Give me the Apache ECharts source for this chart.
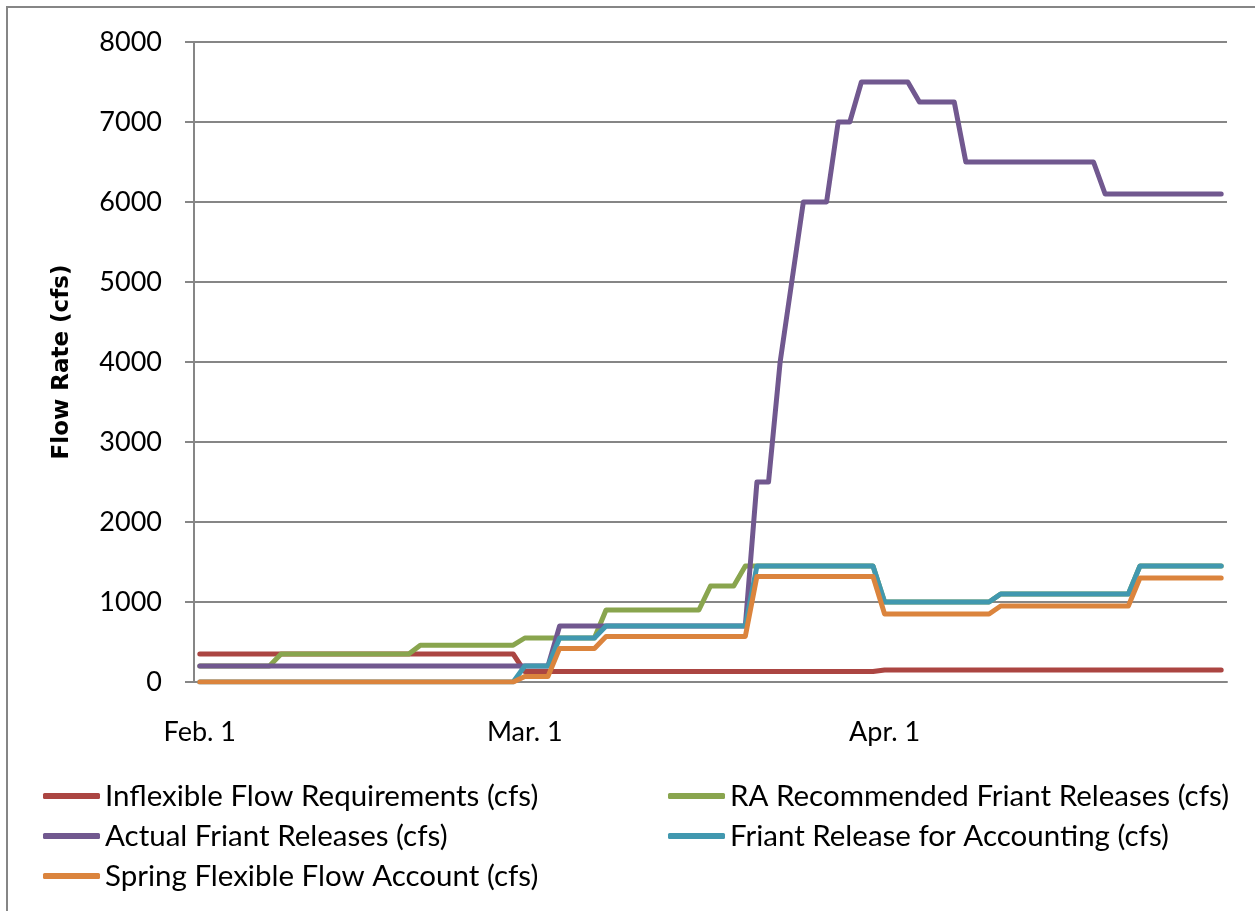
<!DOCTYPE html>
<html>
<head>
<meta charset="utf-8">
<script src="https://cdn.jsdelivr.net/npm/echarts@6/dist/echarts.min.js"></script>
<style>
  html, body { margin: 0; padding: 0; background: #fff; }
  #chart { width: 1255px; height: 911px; }
</style>
</head>
<body>
<div id="chart"></div>
<script>
// daily categories, Feb. 1 .. Apr. 30
const months = [['Feb.', 28], ['Mar.', 31], ['Apr.', 30]];
const dates = [];
months.forEach(([m, n]) => {
  for (let d = 1; d <= n; d++) dates.push(m + ' ' + d);
});
const monthStarts = [0, 28, 59];

const inflexible = [
  350, 350, 350, 350, 350, 350, 350, 350, 350, 350,
  350, 350, 350, 350, 350, 350, 350, 350, 350, 350,
  350, 350, 350, 350, 350, 350, 350, 350,
  130, 130, 130, 130, 130, 130, 130, 130, 130, 130,
  130, 130, 130, 130, 130, 130, 130, 130, 130, 130,
  130, 130, 130, 130, 130, 130, 130, 130, 130, 130, 130,
  150, 150, 150, 150, 150, 150, 150, 150, 150, 150,
  150, 150, 150, 150, 150, 150, 150, 150, 150, 150,
  150, 150, 150, 150, 150, 150, 150, 150, 150, 150
];

const raRecommended = [
  200, 200, 200, 200, 200, 200, 200, 350, 350, 350,
  350, 350, 350, 350, 350, 350, 350, 350, 350, 460,
  460, 460, 460, 460, 460, 460, 460, 460,
  550, 550, 550, 550, 550, 550, 550, 900, 900, 900,
  900, 900, 900, 900, 900, 900, 1200, 1200, 1200, 1450,
  1450, 1450, 1450, 1450, 1450, 1450, 1450, 1450, 1450, 1450, 1450,
  1000, 1000, 1000, 1000, 1000, 1000, 1000, 1000, 1000, 1000,
  1100, 1100, 1100, 1100, 1100, 1100, 1100, 1100, 1100, 1100,
  1100, 1100, 1450, 1450, 1450, 1450, 1450, 1450, 1450, 1450
];

const actualReleases = [
  200, 200, 200, 200, 200, 200, 200, 200, 200, 200,
  200, 200, 200, 200, 200, 200, 200, 200, 200, 200,
  200, 200, 200, 200, 200, 200, 200, 200,
  200, 200, 200, 700, 700, 700, 700, 700, 700, 700,
  700, 700, 700, 700, 700, 700, 700, 700, 700, 700,
  2500, 2500, 4000, 5000, 6000, 6000, 6000, 7000, 7000, 7500, 7500,
  7500, 7500, 7500, 7250, 7250, 7250, 7250, 6500, 6500, 6500,
  6500, 6500, 6500, 6500, 6500, 6500, 6500, 6500, 6500, 6100,
  6100, 6100, 6100, 6100, 6100, 6100, 6100, 6100, 6100, 6100
];

const accountingRelease = [
  0, 0, 0, 0, 0, 0, 0, 0, 0, 0,
  0, 0, 0, 0, 0, 0, 0, 0, 0, 0,
  0, 0, 0, 0, 0, 0, 0, 0,
  200, 200, 200, 550, 550, 550, 550, 700, 700, 700,
  700, 700, 700, 700, 700, 700, 700, 700, 700, 700,
  1450, 1450, 1450, 1450, 1450, 1450, 1450, 1450, 1450, 1450, 1450,
  1000, 1000, 1000, 1000, 1000, 1000, 1000, 1000, 1000, 1000,
  1100, 1100, 1100, 1100, 1100, 1100, 1100, 1100, 1100, 1100,
  1100, 1100, 1450, 1450, 1450, 1450, 1450, 1450, 1450, 1450
];

const springFlexible = [
  0, 0, 0, 0, 0, 0, 0, 0, 0, 0,
  0, 0, 0, 0, 0, 0, 0, 0, 0, 0,
  0, 0, 0, 0, 0, 0, 0, 0,
  70, 70, 70, 420, 420, 420, 420, 570, 570, 570,
  570, 570, 570, 570, 570, 570, 570, 570, 570, 570,
  1320, 1320, 1320, 1320, 1320, 1320, 1320, 1320, 1320, 1320, 1320,
  850, 850, 850, 850, 850, 850, 850, 850, 850, 850,
  950, 950, 950, 950, 950, 950, 950, 950, 950, 950,
  950, 950, 1300, 1300, 1300, 1300, 1300, 1300, 1300, 1300
];

const seriesNames = [
  'Inflexible Flow Requirements (cfs)',
  'RA Recommended Friant Releases (cfs)',
  'Actual Friant Releases (cfs)',
  'Friant Release for Accounting (cfs)',
  'Spring Flexible Flow Account (cfs)'
];
const seriesData = [inflexible, raRecommended, actualReleases, accountingRelease, springFlexible];
const colors = ['#AB4542', '#89A54E', '#71588F', '#4198AF', '#DB843D'];

const font = 'Lato, "Open Sans", sans-serif';
const gray = '#868686';

const chart = echarts.init(document.getElementById('chart'));

const legendText = { fontFamily: font, fontSize: 29.5, color: '#000', lineHeight: 34 };

const option = {
  animation: false,
  color: colors,
  textStyle: { fontFamily: font },
  graphic: [{
    type: 'rect',
    shape: { x: 7, y: 7, width: 1400, height: 1000 },
    style: { fill: 'none', stroke: gray, lineWidth: 2 },
    silent: true
  }],
  grid: { left: 194, right: 28, top: 42, bottom: 229 },
  legend: [
    {
      data: [seriesNames[0], seriesNames[2], seriesNames[4]],
      orient: 'vertical',
      left: 38, top: 774,
      itemWidth: 57, itemHeight: 6, itemGap: 6,
      icon: 'roundRect',
      textStyle: legendText
    },
    {
      data: [seriesNames[1], seriesNames[3]],
      orient: 'vertical',
      left: 663, top: 774,
      itemWidth: 57, itemHeight: 6, itemGap: 6,
      icon: 'roundRect',
      textStyle: legendText
    }
  ],
  xAxis: {
    type: 'category',
    data: dates,
    boundaryGap: true,
    axisLine: { lineStyle: { color: gray, width: 2 } },
    axisTick: {
      length: 9,
      lineStyle: { color: gray, width: 2 },
      interval: (i) => monthStarts.includes(i)
    },
    axisLabel: {
      interval: (i) => monthStarts.includes(i),
      margin: 37,
      fontSize: 27,
      color: '#000',
      fontFamily: font
    },
    splitLine: { show: false }
  },
  yAxis: {
    type: 'value',
    min: 0,
    max: 8000,
    interval: 1000,
    name: 'Flow Rate (cfs)',
    nameLocation: 'middle',
    nameGap: 120,
    nameTextStyle: { fontSize: 23, fontWeight: 'bold', color: '#000', fontFamily: '"DejaVu Sans", sans-serif' },
    axisLine: { show: true, lineStyle: { color: gray, width: 2 } },
    axisTick: { show: true, length: 9, lineStyle: { color: gray, width: 2 } },
    axisLabel: {
      margin: 32, fontSize: 27, color: '#000', fontFamily: font,
      formatter: (v) => String(v)
    },
    splitLine: { lineStyle: { color: gray, width: 2 } }
  },
  series: seriesNames.map((name, k) => ({
    name: name,
    type: 'line',
    data: seriesData[k],
    showSymbol: false,
    symbol: 'none',
    lineStyle: { width: 5, color: colors[k], cap: 'round', join: 'round' },
    itemStyle: { color: colors[k] }
  }))
};

chart.setOption(option);
</script>
</body>
</html>
